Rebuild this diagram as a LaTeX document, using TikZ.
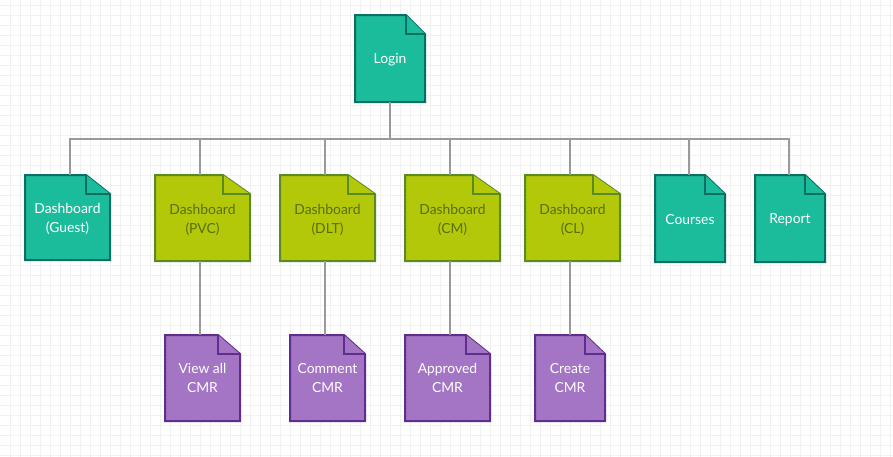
\documentclass[tikz,border=0pt]{standalone}
\usepackage{fontspec}
\setmainfont{Lato}
\definecolor{tealfill}{HTML}{1BBC9B}
\definecolor{tealline}{HTML}{0B6E62}
\definecolor{limefill}{HTML}{B2C809}
\definecolor{limeline}{HTML}{5A8A22}
\definecolor{limetext}{HTML}{5A6E0C}
\definecolor{purpfill}{HTML}{A475C5}
\definecolor{purpline}{HTML}{5F2D8E}
\definecolor{connline}{HTML}{9A9A9A}
\definecolor{gridcol}{HTML}{F1F1F1}
\tikzset{
  tealnote/.style={fill=tealfill,draw=tealline},
  limenote/.style={fill=limefill,draw=limeline},
  purpnote/.style={fill=purpfill,draw=purpline},
  notetxt/.style={inner sep=0pt,align=center,font=\fontsize{10.4}{14.25}\selectfont},
  conn/.style={draw=connline,line width=1.5pt},
}
% #1 style, #2 text colour, #3 name, #4 x1, #5 y1, #6 x2, #7 y2, #8 fold width, #9 text
\newcommand{\mynote}[9]{%
  \draw[#1,line width=1.5pt] (#4,#5) -- (#6-#8,#5) -- (#6,#5+19) -- (#6,#7) -- (#4,#7) -- cycle;
  \draw[#1,line width=1.5pt] (#6-#8,#5) -- (#6-#8,#5+19) -- (#6,#5+19);
  \node[notetxt,minimum width={(#6-#4)*0.75pt},minimum height={(#7-#5)*0.75pt}] (#3) at ({(#4+#6)/2},{(#5+#7)/2}) {};
  \node[notetxt,text=#2] (#3-label) at ({(#4+#6)/2},{(#5+#7)/2+1.5}) {#9};
}
\begin{document}
\begin{tikzpicture}[x=0.75pt,y=-0.75pt]
\useasboundingbox (0,0) rectangle (893,457);
\fill[white] (0,0) rectangle (893,457);
\foreach \gx in {10,20,...,890} \draw[gridcol,line width=0.6pt] (\gx,0) -- (\gx,457);
\foreach \gy in {5,15,...,455} \draw[gridcol,line width=0.6pt] (0,\gy) -- (893,\gy);

\mynote{tealnote}{white}{login}{355}{15}{425}{102}{19}{Login}
\mynote{tealnote}{white}{guest}{25}{175}{110}{260}{24}{Dashboard\\(Guest)}
\mynote{limenote}{limetext}{pvc}{155}{175}{250}{261}{27}{Dashboard\\(PVC)}
\mynote{limenote}{limetext}{dlt}{280}{175}{375}{261}{27}{Dashboard\\(DLT)}
\mynote{limenote}{limetext}{cm}{405}{175}{500}{261}{27}{Dashboard\\(CM)}
\mynote{limenote}{limetext}{cl}{525}{175}{620}{261}{27}{Dashboard\\(CL)}
\mynote{tealnote}{white}{courses}{655}{175}{725}{262}{20}{Courses}
\mynote{tealnote}{white}{report}{755}{175}{825}{262}{20}{Report}
\mynote{purpnote}{white}{view}{165}{335}{240}{421}{22}{\strut View all\\\strut CMR}
\mynote{purpnote}{white}{comment}{290}{335}{365}{421}{21}{\strut Comment\\\strut CMR}
\mynote{purpnote}{white}{approved}{405}{335}{490}{421}{24}{\strut Approved\\\strut CMR}
\mynote{purpnote}{white}{create}{535}{335}{605}{421}{20}{\strut Create\\\strut CMR}

\coordinate (bus) at (390,139);
\draw[conn] (login.south) -- (bus);
\draw[conn] (bus) -| ([xshift=1.5pt]guest.north);
\draw[conn] (bus) -| ([xshift=-1.9pt]pvc.north);
\draw[conn] (bus) -| ([xshift=-1.9pt]dlt.north);
\draw[conn] (bus) -| ([xshift=-1.9pt]cm.north);
\draw[conn] (bus) -| ([xshift=-1.9pt]cl.north);
\draw[conn] (bus) -| ([xshift=-0.5pt]courses.north);
\draw[conn] (bus) -| ([xshift=-0.5pt]report.north);
\draw[conn] ([xshift=-1.9pt]pvc.south) -- ([xshift=-1.9pt]pvc.south |- view.north);
\draw[conn] ([xshift=-1.9pt]dlt.south) -- ([xshift=-1.9pt]dlt.south |- comment.north);
\draw[conn] ([xshift=-1.9pt]cm.south) -- ([xshift=-1.9pt]cm.south |- approved.north);
\draw[conn] ([xshift=-1.9pt]cl.south) -- ([xshift=-1.9pt]cl.south |- create.north);
\end{tikzpicture}
\end{document}
